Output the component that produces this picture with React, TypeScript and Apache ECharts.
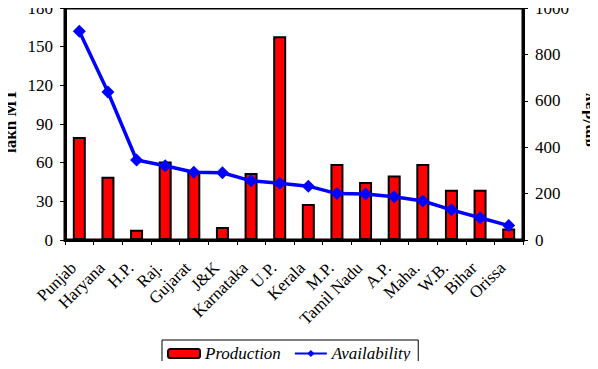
import React, { useEffect, useRef } from "react";
import * as echarts from "echarts";

const states = ["Punjab", "Haryana", "H.P.", "Raj.", "Gujarat", "J&K", "Karnataka", "U.P.", "Kerala", "M.P.", "Tamil Nadu", "A.P.", "Maha.", "W.B.", "Bihar", "Orissa"];
const production = [80, 49, 8, 61, 53, 10, 52, 158, 28, 59, 45, 50, 59, 39, 39, 9];
const availability = [900, 638, 345, 320, 292, 290, 255, 245, 232, 200, 198, 186, 168, 130, 96, 62];
const leftAxisName = "lakh MT";
const rightAxisName = "gm/day";

const FONT = "Liberation Serif";

export default function App() {
  const ref = useRef<HTMLDivElement>(null);
  useEffect(() => {
    const chart = echarts.init(ref.current!, null, { renderer: "svg" });
    chart.setOption({
      animation: false,
      textStyle: { fontFamily: FONT, color: "#000" },
      grid: {
        left: 65,
        right: 75,
        top: 8,
        bottom: 129,
        containLabel: false,
        outerBoundsMode: "none",
        show: true,
        borderColor: "#000",
        borderWidth: 3,
      },
      graphic: [
        {
          type: "text",
          x: 10,
          y: 121,
          rotation: Math.PI / 2,
          style: { text: leftAxisName, font: "bold 17px Liberation Serif", fill: "#000", align: "center", verticalAlign: "middle" },
        },
        {
          type: "text",
          x: 588,
          y: 120,
          rotation: Math.PI / 2,
          style: { text: rightAxisName, font: "bold 17px Liberation Serif", fill: "#000", align: "center", verticalAlign: "middle" },
        },
      ],
      legend: {
        top: 340,
        left: 162,
        itemWidth: 32,
        itemHeight: 9,
        itemGap: 13,
        borderColor: "#000",
        borderWidth: 1,
        padding: [5, 8, 8, 5],
        textStyle: { fontFamily: FONT, fontStyle: "italic", fontSize: 17, color: "#000" },
        data: ["Production", "Availability"],
      },
      xAxis: {
        type: "category",
        data: states,
        axisLine: { lineStyle: { color: "#000", width: 3 } },
        axisTick: { show: true, length: 5, lineStyle: { color: "#000", width: 1 } },
        axisLabel: {
          rotate: 45,
          fontSize: 17,
          color: "#000",
          fontFamily: FONT,
          margin: 31,
          interval: 0,
          align: "right",
          verticalAlign: "bottom",
        },
      },
      yAxis: [
        {
          type: "value",
          min: 0,
          max: 180,
          interval: 30,
          axisLine: { show: true, lineStyle: { color: "#000", width: 3 } },
          axisTick: { show: true, length: 5, lineStyle: { color: "#000", width: 1 } },
          axisLabel: { fontSize: 17, color: "#000", fontFamily: FONT, margin: 12, formatter: (v: number) => String(v) },
          splitLine: { show: false },
        },
        {
          type: "value",
          min: 0,
          max: 1000,
          interval: 200,
          axisLine: { show: true, lineStyle: { color: "#000", width: 3 } },
          axisTick: { show: true, length: 5, lineStyle: { color: "#000", width: 1 } },
          axisLabel: { fontSize: 17, color: "#000", fontFamily: FONT, margin: 12, formatter: (v: number) => String(v) },
          splitLine: { show: false },
        },
      ],
      series: [
        {
          name: "Production",
          type: "bar",
          data: production,
          barWidth: 13,
          itemStyle: { color: "#ff0000", borderColor: "#000", borderWidth: 2 },
        },
        {
          name: "Availability",
          type: "line",
          yAxisIndex: 1,
          data: availability,
          symbol: "diamond",
          symbolSize: 13,
          lineStyle: { color: "#0000ff", width: 3.5 },
          itemStyle: { color: "#0000ff" },
        },
      ],
    });
    return () => chart.dispose();
  }, []);
  return <div ref={ref} style={{ width: 598, height: 369, margin: -8 }} />;
}
